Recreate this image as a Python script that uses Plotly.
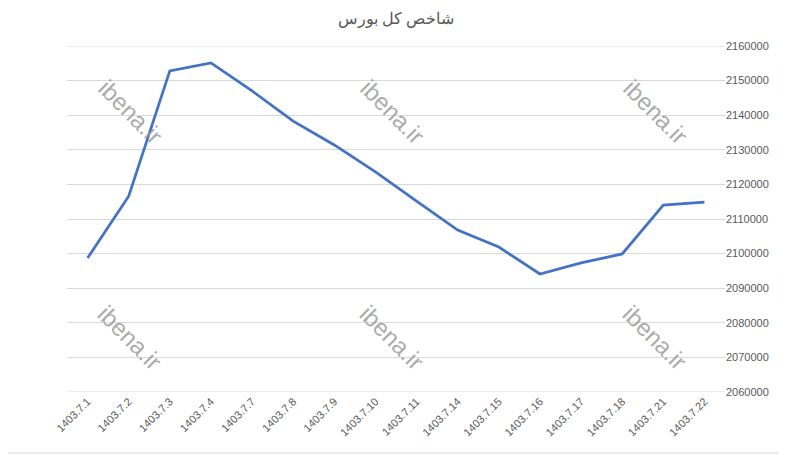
import plotly.graph_objects as go

categories = ["1403.7.1", "1403.7.2", "1403.7.3", "1403.7.4", "1403.7.7", "1403.7.8",
              "1403.7.9", "1403.7.10", "1403.7.11", "1403.7.14", "1403.7.15", "1403.7.16",
              "1403.7.17", "1403.7.18", "1403.7.21", "1403.7.22"]
index_values = [2098700, 2116600, 2152800, 2155100, 2147000, 2138300,
                2131400, 2123600, 2115200, 2106800, 2101900, 2094100,
                2097300, 2099900, 2114000, 2114900]
y_ticks = list(range(2060000, 2160001, 10000))
title_text = "شاخص کل بورس"
watermark = "ibena.ir"

# page has an 8px body margin, so the figure is shrunk by 8px and offset
W, H = 779, 447
L, T, R, B = 59, 38, 62, 63
PW, PH = W - L - R, H - T - B

fig = go.Figure()
fig.add_trace(go.Scatter(
    x=categories, y=index_values, mode="lines",
    line=dict(color="#4472C4", width=2.75),
    hoverinfo="x+y", showlegend=False,
))

def px_to_paper(sx, sy):
    fx, fy = sx - 8, sy - 8
    return (fx - L) / PW, (H - B - fy) / PH

wm_screen = [(130, 112), (392, 112), (655, 112), (130, 337), (392, 337), (655, 337)]
for (sx, sy) in wm_screen:
    wx, wy = px_to_paper(sx, sy)
    fig.add_annotation(text=watermark, x=wx, y=wy, xref="paper", yref="paper",
                       xanchor="center", yanchor="middle",
                       showarrow=False, textangle=45,
                       font=dict(family="Liberation Sans, Arial", size=24,
                                 color="rgba(155,155,155,0.85)"))

# edge gridlines (plotly drops gridlines lying on the plot edges)
for gv in (y_ticks[0], y_ticks[-1]):
    fig.add_shape(type="line", xref="paper", yref="y", x0=0, x1=1, y0=gv, y1=gv,
                  layer="below", line=dict(color="#d9d9d9", width=1))

# sheet border line below the chart
bx0, by = px_to_paper(0, 453)
bx1, _ = px_to_paper(787, 453)
fig.add_shape(type="line", xref="paper", yref="paper",
              x0=bx0, x1=bx1, y0=by, y1=by,
              line=dict(color="#d9d9d9", width=1))

fig.update_layout(
    width=W, height=H,
    margin=dict(l=L, r=R, t=T, b=B, autoexpand=False),
    paper_bgcolor="white", plot_bgcolor="white",
    title=dict(text=title_text, x=0.5, xref="paper", xanchor="center",
               y=1 - 10 / H, yanchor="middle",
               font=dict(family="Liberation Sans, Arial", size=16, color="#595959")),
    xaxis=dict(type="category", range=[-0.5, len(categories) - 0.5],
               showgrid=False, zeroline=False, showline=False,
               tickangle=-45, ticks="",
               tickfont=dict(family="Liberation Sans, Arial", size=11, color="#595959")),
    yaxis=dict(side="right", range=[2060000, 2160000], tickvals=y_ticks,
               ticktext=[str(v) for v in y_ticks],
               showgrid=True, gridcolor="#d9d9d9", gridwidth=1,
               zeroline=False, showline=False, ticks="",
               tickfont=dict(family="Liberation Sans, Arial", size=11, color="#595959")),
)

fig.write_html("out.html")
